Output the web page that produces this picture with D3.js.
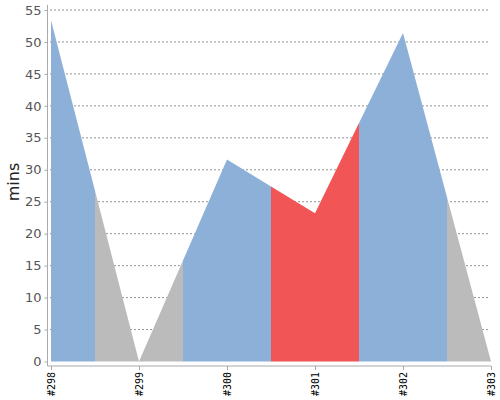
<!DOCTYPE html>
<html lang="en">
<head>
<meta charset="UTF-8">
<title>Build time trend</title>
<script src="https://cdnjs.cloudflare.com/ajax/libs/d3/7.8.5/d3.min.js"></script>
<style>
  body { margin: 0; background: #fff; }
  svg { display: block; }
</style>
</head>
<body>
<svg id="graph" width="500" height="400"></svg>
<script>
// build numbers, durations (mins) and result of each build
var builds = ["#298", "#299", "#300", "#301", "#302", "#303"];
var durations = [53.4, 0, 31.6, 23.2, 51.4, 0];
var results = ["success", "aborted", "success", "failure", "success", "aborted"];
var yTicks = [0, 5, 10, 15, 20, 25, 30, 35, 40, 45, 50, 55];

var colors = { success: "#8db0d9", aborted: "#bbbbbb", failure: "#f25555" };

var svg = d3.select("#graph");

var xScale = d3.scaleLinear().domain([0, builds.length - 1]).range([51, 491]);
var yScale = d3.scaleLinear().domain([0, 55]).range([361.5, 10]);

// grid lines
svg.append("g")
  .selectAll("line")
  .data(yTicks.slice(1))
  .enter()
  .append("line")
  .attr("x1", 50).attr("x2", 490)
  .attr("y1", d => yScale(d)).attr("y2", d => yScale(d))
  .attr("stroke", "#777")
  .attr("stroke-width", 0.8)
  .attr("stroke-dasharray", "2,2");

// value at fractional index (linear between builds)
function valueAt(t) {
  var i = Math.floor(t), f = t - i;
  if (i >= durations.length - 1) return durations[durations.length - 1];
  return durations[i] + (durations[i + 1] - durations[i]) * f;
}

var area = d3.area()
  .x(d => xScale(d))
  .y0(yScale(0))
  .y1(d => yScale(valueAt(d)));

// one band per build, from midpoint to midpoint
builds.forEach(function(b, i) {
  var lo = Math.max(0, i - 0.5), hi = Math.min(builds.length - 1, i + 0.5);
  var pts = [lo];
  if (i > lo) pts.push(i);
  if (hi > i) pts.push(hi);
  svg.append("path")
    .datum(pts)
    .attr("d", area)
    .attr("fill", colors[results[i]]);
});

// y axis
var yAxis = d3.axisLeft(yScale).tickValues(yTicks).tickSize(3).tickPadding(3);
var yG = svg.append("g")
  .attr("transform", "translate(47.5,0)")
  .call(yAxis);
yG.select(".domain").attr("stroke", "#aaa").attr("d", "M0,5V366");
yG.selectAll(".tick line").attr("stroke", "#aaa");
yG.selectAll("text")
  .style("font-family", "DejaVu Sans, sans-serif")
  .style("font-size", "13px")
  .attr("fill", "#555");

// x axis
var xAxis = d3.axisBottom(xScale)
  .tickValues(d3.range(builds.length))
  .tickFormat((d, i) => builds[i])
  .tickSize(4);
var xG = svg.append("g")
  .attr("transform", "translate(0,366)")
  .call(xAxis);
xG.select(".domain").attr("stroke", "#aaa").attr("d", "M47.5,0H491");
xG.selectAll(".tick line").attr("stroke", "#aaa");
xG.selectAll("text")
  .style("font-family", "DejaVu Sans Mono, monospace")
  .style("font-size", "10px")
  .attr("fill", "#000")
  .attr("transform", "rotate(-90)")
  .attr("x", -6)
  .attr("y", 0)
  .attr("dy", "0.35em")
  .style("text-anchor", "end");

// y label
svg.append("text")
  .attr("transform", "translate(19,182) rotate(-90)")
  .style("text-anchor", "middle")
  .style("font-family", "DejaVu Sans, sans-serif")
  .style("font-size", "16px")
  .style("font-weight", "500")
  .attr("fill", "#222")
  .text("mins");
</script>
</body>
</html>
